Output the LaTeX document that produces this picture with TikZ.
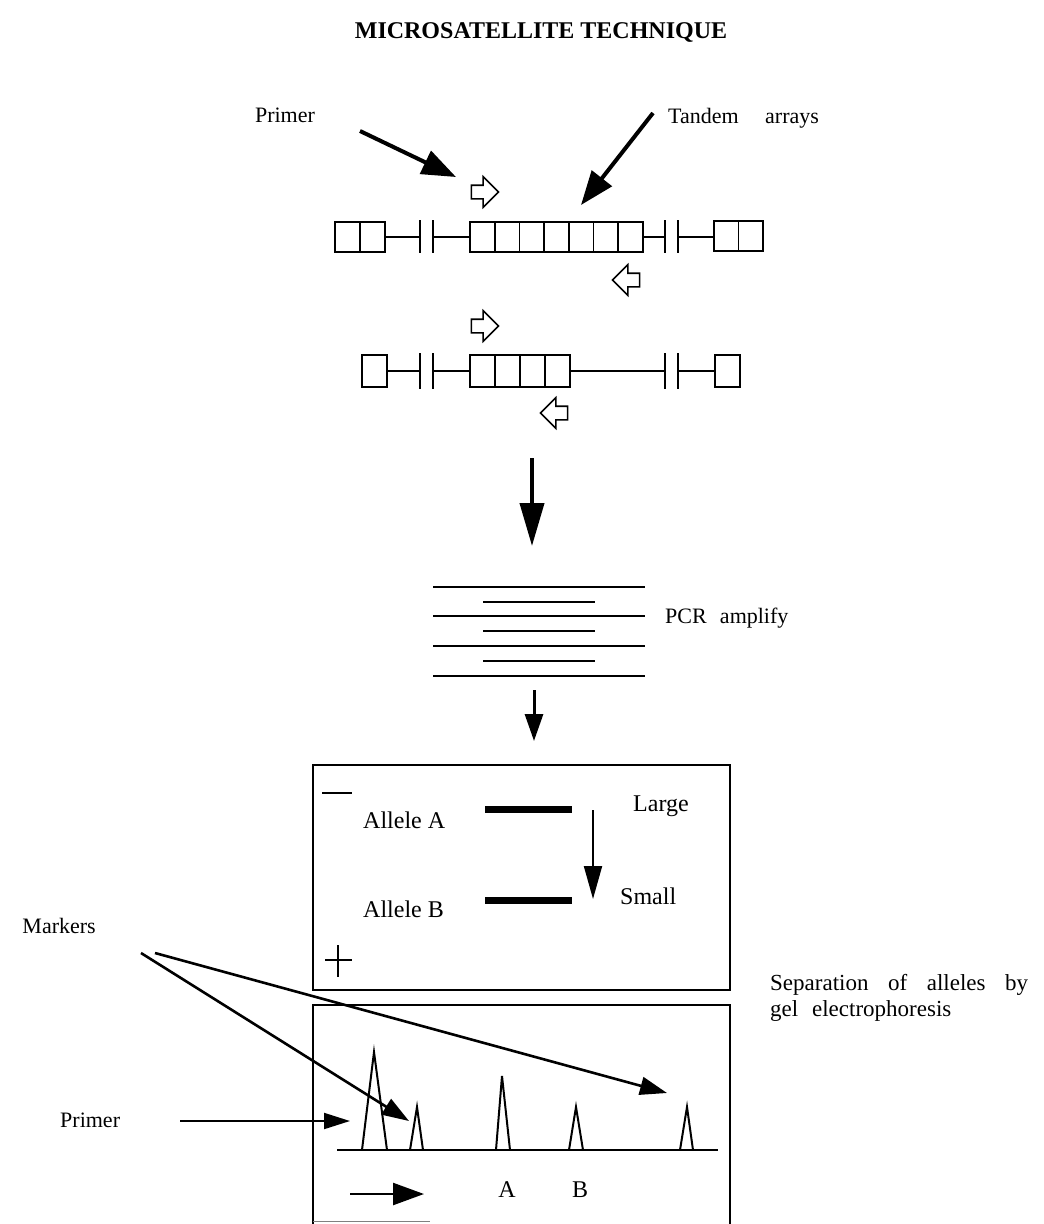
\documentclass[tikz,border=0pt]{standalone}
\usepackage{fontspec}
\setmainfont{Liberation Serif}
\usetikzlibrary{arrows.meta, positioning, shapes.arrows}
\tikzset{
  lbl/.style={font=\fontsize{22}{26}\selectfont, inner sep=0pt},
  gellbl/.style={font=\fontsize{24}{28}\selectfont, inner sep=0pt},
  repbox/.style={draw, line width=1.6pt},
  seq/.style={line width=1.6pt},
  primerR/.style={single arrow, draw, line width=1.6pt, inner sep=6pt,
    minimum height=27pt, single arrow head extend=8.5pt},
  primerL/.style={primerR, shape border rotate=180},
  fatarrow/.style={-{Triangle[length=34pt,width=25pt]}, line width=4pt},
  midarrow/.style={-{Triangle[length=27pt,width=18pt]}, line width=2.6pt},
  thinarrow/.style={-{Triangle[length=30pt,width=20pt]}, line width=2pt},
  pcrline/.style={line width=2pt},
  band/.style={line width=7pt},
  peak/.style={line width=2pt, line join=miter}
}
\begin{document}
\begin{tikzpicture}[x=1pt, y=-1pt]
  \useasboundingbox (0,0) rectangle (1044,1224);

  % title and labels at the top
  \node[font=\bfseries\fontsize{24}{28}\selectfont, inner sep=0pt] (title) at (541,32) {MICROSATELLITE TECHNIQUE};
  \node[lbl] (primertop) at (285,115) {Primer};
  \node[lbl, anchor=west] (tandem) at (668,118) {Tandem\hspace{1.2em}arrays};

  % first allele: long tandem array
  \foreach \x in {335,360} \draw[repbox] (\x,222) rectangle ++(25,30);
  \draw[seq] (385,237) -- (420,237);
  \foreach \x in {420,433,665,678} \draw[seq] (\x,220) -- (\x,253);
  \draw[seq] (433,237) -- (470,237);
  \foreach \i in {0,...,6} \draw[repbox] (470+24.7*\i,222) rectangle ++(24.7,30);
  \draw[seq] (643,237) -- (665,237);
  \draw[seq] (678,237) -- (714,237);
  \foreach \x in {714,738.5} \draw[repbox] (\x,221) rectangle ++(24.5,30);

  \node[primerR] (fwd1) at (481.5,192) {};
  \node[primerL] (rev1) at (629.5,280) {};

  % second allele: short tandem array
  \draw[repbox] (362,355) rectangle ++(25,32);
  \draw[seq] (387,371) -- (420,371);
  \foreach \x in {420,433,665,678} \draw[seq] (\x,353) -- (\x,389);
  \draw[seq] (433,371) -- (470,371);
  \foreach \i in {0,...,3} \draw[repbox] (470+25*\i,355) rectangle ++(25,32);
  \draw[seq] (570,371) -- (665,371);
  \draw[seq] (678,371) -- (715,371);
  \draw[repbox] (715,355) rectangle ++(25,32);

  \node[primerR] (fwd2) at (481.5,326) {};
  \node[primerL] (rev2) at (557.5,413) {};

  \coordinate (ptail) at (360,131);
  \coordinate (ttail) at (653,113);
  \draw[fatarrow] (ptail) -- (456,177);
  \draw[fatarrow] (ttail) -- (581,205);

  % PCR products
  \coordinate (pcrtop) at (532,458);
  \coordinate (pcrin) at (532,546);
  \draw[fatarrow, -{Triangle[length=43pt,width=24pt]}] (pcrtop) -- (pcrin);
  \foreach \y in {587,616,646,676} \draw[pcrline] (433,\y) -- (645,\y);
  \foreach \y in {602,631,661} \draw[pcrline] (483,\y) -- (595,\y);
  \node[lbl, anchor=west] (pcr) at (665,618) {PCR\hspace{0.6em}amplify};
  \coordinate (pcrout) at (534,690);
  \coordinate (gelin) at (534,741);
  \draw[midarrow, line width=3pt] (pcrout) -- (gelin);

  % gel
  \draw[line width=1.6pt] (313,765) rectangle (730,990);
  \draw[line width=1.6pt] (322,793) -- (352,793);
  \draw[line width=1.6pt] (325,960) -- (352,960) (338,945) -- (338,977);
  \node[gellbl, anchor=west] (alleleA) at (363,820) {Allele A};
  \node[gellbl, anchor=west] (alleleB) at (363,909) {Allele B};
  \draw[band] (485,809) -- (572,809);
  \draw[band] (485,900) -- (572,900);
  \node[gellbl, anchor=west] (large) at (633,806) {Large};
  \node[gellbl, anchor=west] (small) at (620,896) {Small};
  \coordinate (runtop) at (593,810);
  \coordinate (runbot) at (593,899);
  \draw[thinarrow, -{Triangle[length=33pt,width=18pt]}] (runtop) -- (runbot);
  \node[lbl, anchor=west, align=left, font=\fontsize{23}{26}\selectfont] (sep) at (770,998)
    {Separation\hspace{0.85em}of\hspace{0.85em}alleles\hspace{0.85em}by\\gel\hspace{0.6em}electrophoresis};

  % trace
  \draw[line width=1.6pt] (313,1224) -- (313,1005) -- (730,1005) -- (730,1224);
  \draw[line width=1pt, gray] (313,1221) -- (430,1221);
  \draw[line width=2pt] (337,1150) -- (718,1150);
  \foreach \l/\t/\r/\h in {362/374/387/1052, 410/417/423/1107, 496/502/510/1076,
                           569/576/583/1107, 680/687/693/1107}
    \draw[peak] (\l,1150) -- (\t,\h) -- (\r,1150);
  \node[lbl, anchor=east] (markers) at (96,926) {Markers};
  \coordinate (mk1) at (141,953);
  \coordinate (mk2) at (155,953);
  \draw[midarrow] (mk1) -- (409,1121);
  \draw[midarrow] (mk2) -- (667,1093);
  \node[lbl, anchor=west] (primerbot) at (60,1120) {Primer};
  \coordinate (prtail) at (180,1121);
  \draw[thinarrow, -{Triangle[length=26pt,width=16pt]}] (prtail) -- (350,1121);
  \coordinate (dirtail) at (350,1194);
  \draw[thinarrow, line width=2.4pt, -{Triangle[length=31pt,width=22pt]}] (dirtail) -- (424,1194);
  \node[gellbl] (peakA) at (507,1190) {A};
  \node[gellbl] (peakB) at (580,1190) {B};
\end{tikzpicture}
\end{document}
